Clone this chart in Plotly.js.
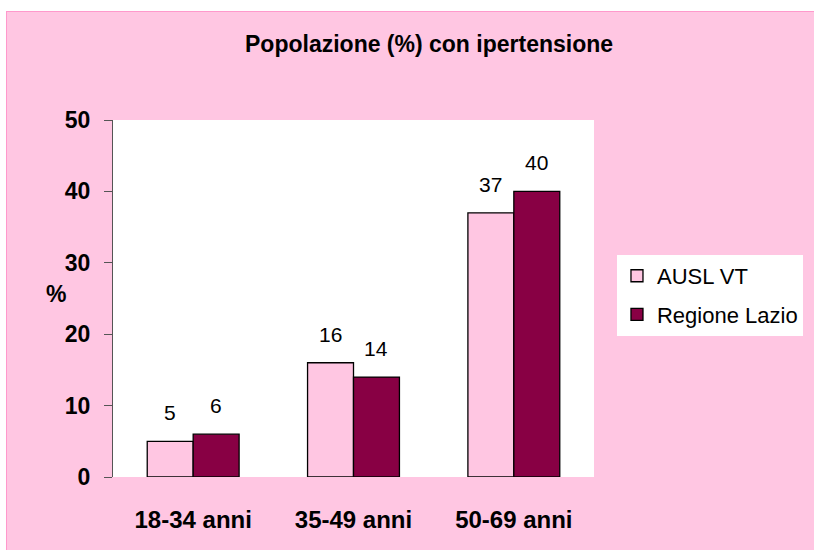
<!DOCTYPE html>
<html>
<head>
<meta charset="utf-8">
<script src="https://cdn.plot.ly/plotly-3.0.1.min.js"></script>
<style>
	body { margin: 0; background: #ffffff; }
	#chart {
		position: absolute; left: 6px; top: 11px;
		width: 807px; height: 538px;
		border-left: 1px solid #ff99cc; border-top: 1px solid #ff99cc;
	}
</style>
</head>
<body>
<div id="chart"></div>
<script>
// data
const fasce = ['18-34 anni', '35-49 anni', '50-69 anni'];
const auslVT = [5, 16, 37];
const regioneLazio = [6, 14, 40];
const serieNomi = ['AUSL VT', 'Regione Lazio'];

const font = 'Liberation Sans, Arial, sans-serif';
const rosa = '#ffc6e2';
const bordeaux = '#880044';

const makeBar = (name, y, color, group) => ({
	type: 'bar',
	name: name,
	x: fasce,
	y: y,
	legendgroup: group,
	marker: {color: color, line: {color: '#000000', width: 1.3}},
	hoverinfo: 'y'
});

const data = [
	makeBar(serieNomi[0], auslVT, rosa, 'a'),
	makeBar(serieNomi[1], regioneLazio, bordeaux, 'b')
];

// value labels above the bars (bar centre is +-0.143 of a category)
let annotations = [];
const addLabels = (vals, offset) => {
	for (let i = 0; i < vals.length; i++) {
		annotations.push({
			x: i + offset, y: vals[i], xref: 'x', yref: 'y',
			text: String(vals[i]), showarrow: false,
			yanchor: 'bottom', yshift: 15,
			font: {family: font, size: 21, color: '#000000'}
		});
	}
};
addLabels(auslVT, -0.143);
addLabels(regioneLazio, 0.143);

// the "%" axis title, drawn horizontally
annotations.push({
	x: -0.093, y: 0.513, xref: 'paper', yref: 'paper',
	xanchor: 'right',
	text: '<b>%</b>', showarrow: false,
	font: {family: font, size: 23, color: '#000000'}
});

const layout = {
	width: 807, height: 538,
	paper_bgcolor: rosa,
	plot_bgcolor: '#ffffff',
	margin: {l: 106, r: 219, t: 108, b: 73},
	font: {family: font, color: '#000000'},
	title: {
		text: '<b>Popolazione (%) con ipertensione</b>',
		x: 0.523, xanchor: 'center',
		y: 0.9405, yref: 'container', yanchor: 'middle',
		font: {family: font, size: 23, color: '#000000'}
	},
	barmode: 'group',
	bargap: 0.427,
	bargroupgap: 0,
	xaxis: {
		type: 'category',
		showline: false, ticks: '', showgrid: false,
		ticklabelstandoff: 26,
		tickfont: {family: font, size: 24, color: '#000000', weight: 'bold'}
	},
	yaxis: {
		range: [0, 50], dtick: 10,
		showgrid: false, zeroline: false,
		showline: true, linecolor: '#555555', linewidth: 1,
		ticks: 'outside', ticklen: 8, tickcolor: '#555555',
		ticklabelstandoff: 9,
		tickfont: {family: font, size: 23, color: '#000000', weight: 'bold'}
	},
	legend: {
		x: 1.0456, xanchor: 'left',
		y: 0.622, yanchor: 'top',
		bgcolor: '#ffffff',
		traceorder: 'grouped',
		tracegroupgap: 7,
		font: {family: font, size: 22, color: '#000000'}
	},
	annotations: annotations,
	showlegend: true
};

Plotly.newPlot('chart', data, layout, {displayModeBar: false, staticPlot: true});
</script>
</body>
</html>
